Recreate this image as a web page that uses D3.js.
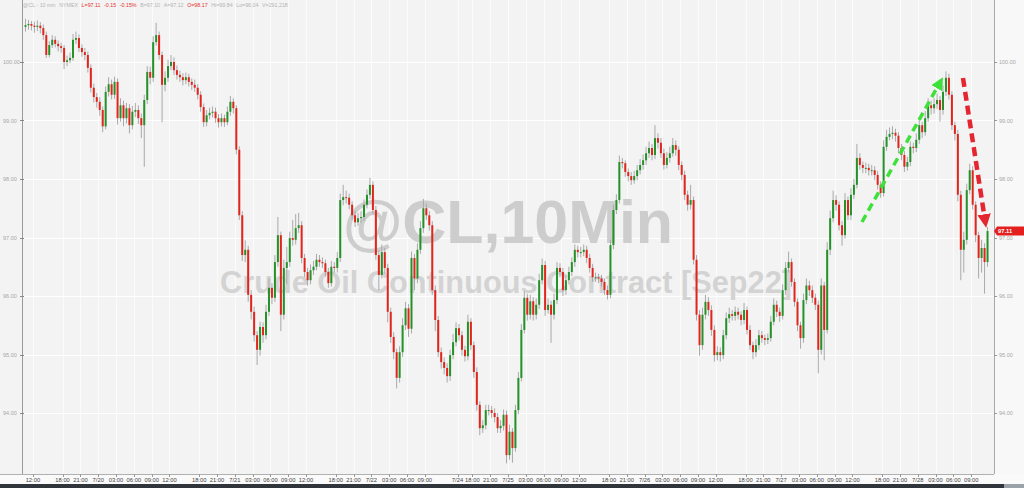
<!DOCTYPE html>
<html><head><meta charset="utf-8">
<script src="https://cdn.jsdelivr.net/npm/d3@7/dist/d3.min.js"></script>
<style>html,body{margin:0;padding:0;background:#f3f3f3;}svg{display:block;font-family:"Liberation Sans",Arial,sans-serif;}</style>
</head><body>
<svg id="c" width="1024" height="488"></svg>
<script>
// ---- data (30-minute bars, CL Sep22, 7/19 10:30 -> 7/28 11:30) ----
const closes = [100.63,100.65,100.62,100.60,100.62,100.58,100.46,100.12,100.29,100.38,100.31,100.27,100.24,100.00,100.03,100.07,100.38,100.41,100.24,100.17,100.12,99.90,99.56,99.40,99.32,99.18,98.90,99.49,99.62,99.44,99.66,99.04,99.26,99.04,99.21,98.92,99.15,99.18,99.04,98.92,99.35,99.83,99.73,100.34,100.46,100.12,99.61,99.73,99.93,100.00,99.86,99.78,99.74,99.69,99.74,99.66,99.61,99.56,99.44,99.23,98.97,99.09,99.13,99.15,99.04,98.97,99.04,98.97,99.15,99.32,99.21,98.50,97.38,96.70,96.79,96.02,95.73,95.33,95.08,95.47,95.33,95.73,96.14,95.97,96.58,97.04,95.68,96.48,96.58,96.99,96.96,97.16,97.21,96.65,96.41,96.27,96.44,96.50,96.62,96.58,96.56,96.41,96.22,96.50,96.48,96.65,97.64,97.69,97.68,97.56,97.38,97.26,97.33,97.35,97.56,97.73,97.90,97.47,96.70,96.36,96.75,96.48,95.73,95.30,95.04,94.60,95.04,95.50,95.79,95.44,96.65,96.30,96.79,97.16,97.50,97.38,97.21,96.10,95.59,95.04,94.87,94.77,94.63,94.99,95.21,95.45,95.33,95.08,94.97,95.56,95.16,94.70,94.14,93.74,93.79,94.05,94.05,94.00,93.93,93.74,93.78,93.97,93.28,93.68,93.40,94.05,94.60,95.42,95.97,95.68,95.91,95.68,95.85,96.27,96.53,95.76,95.85,95.68,95.93,96.48,96.41,96.10,96.27,96.41,96.58,96.79,96.75,96.75,96.79,96.65,96.48,96.32,96.32,96.30,96.24,96.10,96.02,96.87,97.47,97.64,98.29,98.27,98.12,98.05,97.98,98.05,98.15,98.24,98.32,98.44,98.53,98.41,98.70,98.62,98.44,98.24,98.36,98.44,98.58,98.50,98.24,98.07,97.73,97.56,97.64,96.62,95.68,95.16,95.68,95.90,95.76,95.42,94.99,95.04,94.99,95.33,95.62,95.69,95.66,95.73,95.68,95.59,95.76,95.42,95.16,95.04,95.16,95.33,95.28,95.25,95.28,95.56,95.85,95.73,95.66,96.10,96.48,96.58,96.24,95.90,95.50,95.28,95.93,96.18,96.10,95.97,95.85,95.08,96.18,95.42,96.79,97.33,97.64,97.56,97.21,97.04,97.64,97.38,97.73,97.90,98.36,98.24,98.19,98.19,98.15,98.15,98.07,97.90,97.76,98.55,98.72,98.77,98.79,98.74,98.53,98.41,98.21,98.29,98.55,98.53,98.67,98.92,98.80,99.04,99.26,99.21,99.28,99.35,99.18,99.49,99.73,99.44,98.92,98.77,97.73,96.79,96.96,97.81,98.15,97.56,97.04,96.65,96.82,96.58,97.11];
const highs = [100.74,100.72,100.70,100.69,100.71,100.68,100.64,100.52,100.36,100.46,100.44,100.37,100.33,100.29,100.11,100.16,100.48,100.52,100.47,100.30,100.24,100.18,99.96,99.63,99.47,99.40,99.24,99.58,99.74,99.70,99.75,99.72,99.38,99.34,99.30,99.28,99.25,99.30,99.26,99.12,99.44,99.93,99.92,100.44,100.67,100.52,100.18,99.84,100.04,100.12,100.08,99.94,99.85,99.81,99.82,99.80,99.72,99.70,99.62,99.50,99.29,99.18,99.22,99.24,99.22,99.11,99.12,99.10,99.24,99.42,99.38,99.26,98.56,97.45,96.95,96.86,96.10,95.82,95.40,95.56,95.55,95.85,96.30,96.22,96.70,97.35,97.10,96.62,96.84,97.10,97.30,97.40,97.42,97.28,96.72,96.48,96.54,96.60,96.72,96.70,96.66,96.62,96.48,96.60,96.58,96.75,97.75,97.90,97.80,97.75,97.62,97.45,97.42,97.45,97.65,97.82,98.02,97.96,97.54,96.78,96.88,96.82,96.55,95.80,95.38,95.10,95.14,95.62,95.90,95.86,96.76,96.72,96.90,97.28,97.66,97.58,97.45,97.28,96.18,95.66,95.12,94.95,94.85,95.08,95.35,95.55,95.52,95.40,95.15,95.68,95.62,95.22,94.78,94.20,93.88,94.14,94.14,94.12,94.08,94.00,93.88,94.06,94.04,93.80,93.74,94.14,94.70,95.52,96.08,96.04,96.02,95.98,95.96,96.38,96.64,96.60,95.96,95.92,96.04,96.58,96.56,96.48,96.36,96.50,96.66,96.88,96.86,96.84,96.88,96.86,96.72,96.55,96.40,96.38,96.36,96.30,96.18,96.96,97.56,97.74,98.40,98.36,98.32,98.18,98.12,98.14,98.24,98.34,98.42,98.55,98.64,98.60,98.92,98.78,98.70,98.52,98.46,98.55,98.70,98.66,98.56,98.30,98.14,97.80,97.90,97.70,96.70,95.76,95.80,96.02,95.98,95.84,95.50,95.14,95.12,95.42,95.72,95.80,95.76,95.82,95.80,95.74,95.88,95.82,95.50,95.22,95.26,95.42,95.40,95.34,95.36,95.66,95.96,95.92,95.80,96.20,96.58,96.76,96.64,96.30,95.96,95.56,96.04,96.30,96.26,96.18,96.04,95.92,96.30,96.24,96.92,97.46,97.80,97.72,97.62,97.28,97.76,97.70,97.84,98.00,98.60,98.44,98.30,98.28,98.26,98.24,98.22,98.14,97.96,98.66,98.84,98.88,98.90,98.86,98.80,98.60,98.48,98.38,98.64,98.62,98.78,99.04,98.98,99.16,99.38,99.34,99.38,99.46,99.42,99.60,99.84,99.80,99.50,98.98,98.84,97.80,97.10,97.92,98.26,98.22,97.62,97.10,96.96,96.90,97.18];
const lows = [100.52,100.55,100.54,100.50,100.53,100.49,100.38,100.07,100.08,100.24,100.25,100.18,100.16,99.88,99.93,99.98,100.02,100.31,100.17,100.09,100.03,99.82,99.48,99.31,99.22,99.08,98.80,98.85,99.41,99.36,99.37,98.93,98.98,98.90,98.95,98.78,98.85,99.06,98.94,98.70,98.21,99.28,99.62,99.66,100.28,100.04,98.97,99.50,99.66,99.86,99.78,99.70,99.66,99.60,99.62,99.58,99.52,99.49,99.36,99.15,98.89,98.90,99.02,99.05,98.96,98.88,98.90,98.89,98.92,99.08,99.12,98.42,97.30,96.60,96.58,95.90,95.60,95.22,94.82,94.98,95.20,95.26,95.66,95.86,95.90,96.50,95.40,95.60,96.20,96.50,96.86,96.88,97.08,96.56,96.32,96.18,96.20,96.36,96.44,96.50,96.48,96.33,96.14,96.16,96.40,96.40,96.58,97.55,97.58,97.48,97.30,97.18,97.20,97.25,97.28,97.50,97.66,97.40,96.62,96.10,96.30,96.38,95.55,95.20,94.92,94.42,94.52,94.96,95.42,95.30,95.36,96.10,96.22,96.72,97.08,97.30,97.12,96.02,95.40,94.96,94.76,94.66,94.52,94.55,94.92,95.14,95.24,94.98,94.88,94.90,95.08,94.60,94.04,93.62,93.66,93.72,93.96,93.92,93.84,93.66,93.66,93.70,93.14,93.20,93.15,93.34,93.98,94.54,95.36,95.58,95.60,95.58,95.60,95.78,96.20,95.66,95.70,95.20,95.60,95.86,96.32,96.00,96.02,96.20,96.34,96.50,96.66,96.66,96.68,96.56,96.40,96.24,96.24,96.22,96.16,96.02,95.94,95.96,96.80,97.40,97.58,98.18,98.04,97.96,97.90,97.92,97.98,98.08,98.16,98.24,98.36,98.32,98.34,98.52,98.36,98.16,98.18,98.28,98.38,98.40,98.15,97.98,97.64,97.46,97.48,96.54,95.58,94.98,95.08,95.60,95.66,95.32,94.88,94.90,94.88,94.92,95.26,95.54,95.58,95.58,95.60,95.50,95.52,95.34,95.08,94.92,94.96,95.08,95.20,95.16,95.18,95.22,95.50,95.64,95.56,95.60,96.02,96.40,96.16,95.82,95.40,95.10,95.20,95.86,96.00,95.88,95.76,94.68,95.00,94.90,95.36,96.70,97.26,97.46,97.12,96.86,96.98,97.30,97.30,97.66,97.84,98.16,98.10,98.10,98.06,98.06,97.98,97.82,97.68,97.70,98.48,98.66,98.68,98.64,98.44,98.32,98.12,98.14,98.22,98.44,98.46,98.60,98.70,98.74,98.98,99.10,99.12,99.20,98.98,99.10,99.42,99.36,98.84,98.66,97.62,96.27,96.40,96.88,97.74,97.48,96.92,96.30,96.40,96.04,96.50];
const firstOpen = 100.60;
const barStart = "2022-07-19T10:30";
const yTicks = [94, 95, 96, 97, 98, 99, 100];
const xTickTimes = ["2022-07-19T12:00","2022-07-19T18:00","2022-07-19T21:00","2022-07-20T00:00","2022-07-20T03:00","2022-07-20T06:00","2022-07-20T09:00","2022-07-20T12:00","2022-07-20T18:00","2022-07-20T21:00","2022-07-21T00:00","2022-07-21T03:00","2022-07-21T06:00","2022-07-21T09:00","2022-07-21T12:00","2022-07-21T18:00","2022-07-21T21:00","2022-07-22T00:00","2022-07-22T03:00","2022-07-22T06:00","2022-07-22T09:00","2022-07-22T14:30","2022-07-24T18:00","2022-07-24T21:00","2022-07-25T00:00","2022-07-25T03:00","2022-07-25T06:00","2022-07-25T09:00","2022-07-25T12:00","2022-07-25T18:00","2022-07-25T21:00","2022-07-26T00:00","2022-07-26T03:00","2022-07-26T06:00","2022-07-26T09:00","2022-07-26T12:00","2022-07-26T18:00","2022-07-26T21:00","2022-07-27T00:00","2022-07-27T03:00","2022-07-27T06:00","2022-07-27T09:00","2022-07-27T12:00","2022-07-27T18:00","2022-07-27T21:00","2022-07-28T00:00","2022-07-28T03:00","2022-07-28T06:00","2022-07-28T09:00"];
const xTickLabels = ["12:00","18:00","21:00","7/20","03:00","06:00","09:00","12:00","18:00","21:00","7/21","03:00","06:00","09:00","12:00","18:00","21:00","7/22","03:00","06:00","09:00","7/24","18:00","21:00","7/25","03:00","06:00","09:00","12:00","18:00","21:00","7/26","03:00","06:00","09:00","12:00","18:00","21:00","7/27","03:00","06:00","09:00","12:00","18:00","21:00","7/28","03:00","06:00","09:00"];
const headerTexts = ["@CL - 10 min","NYMEX","L=97.11","-0.15","-0.15%","B=97.10","A=97.12","O=98.17","Hi=99.84","Lo=96.04","V=291,218"];
const headerRed = [false,false,true,true,true,false,false,true,false,false,false];
const lastPrice = 97.11;
const watermarkTitle = "@CL,10Min";
const watermarkSub = "Crude Oil Continuous Contract [Sep22]";

(function () {
const svg = d3.select("#c");
const W = 1024, H = 488;
const pL = 22, pR = 994, pB = 474;
const N = closes.length;
const parse = d3.timeParse("%Y-%m-%dT%H:%M");

// trading-time bar clock (skip 17:00-18:00 daily break and the weekend)
const bars = [];
let t = parse(barStart);
while (bars.length < N + 1) {
  bars.push(t);
  t = d3.timeMinute.offset(t, 30);
  if (t.getHours() === 17 && t.getMinutes() === 0) {
    t = d3.timeHour.offset(t, t.getDay() === 5 ? 49 : 1);
  }
}
const idxOf = d => bars.findIndex(b => b.getTime() === d.getTime());

const x = d3.scaleLinear().domain([0, N]).range([24, 989]);
const y = d3.scaleLinear().domain([94, 100]).range([413, 62]);

svg.append("rect").attr("width", W).attr("height", H).attr("fill", "#f3f3f3");
svg.append("rect").attr("x", pR).attr("y", 0).attr("width", W - pR).attr("height", pB).attr("fill", "#f8f8f8");
svg.append("rect").attr("x", 0).attr("y", pB).attr("width", W).attr("height", 10).attr("fill", "#fafafa");
svg.append("rect").attr("x", 0).attr("y", 484).attr("width", W).attr("height", 4).attr("fill", "#30353b");
svg.append("rect").attr("x", 1004).attr("y", 484).attr("width", 20).attr("height", 4).attr("fill", "#9aa2aa");

// grid
const tickIdx = xTickTimes.map(s => idxOf(parse(s)));
svg.append("g").selectAll("line").data(tickIdx).join("line")
  .attr("x1", d => Math.round(x(d)) + 0.5).attr("x2", d => Math.round(x(d)) + 0.5)
  .attr("y1", 0).attr("y2", pB).attr("stroke", "#ffffff").attr("stroke-width", 1).attr("opacity", 0.7);
svg.append("g").selectAll("line").data(yTicks).join("line")
  .attr("x1", pL).attr("x2", pR).attr("y1", d => Math.round(y(d)) + 0.5).attr("y2", d => Math.round(y(d)) + 0.5)
  .attr("stroke", "#ffffff").attr("stroke-width", 1);

// watermark
svg.append("text").text(watermarkTitle).attr("x", 508).attr("y", 243).attr("text-anchor", "middle")
  .attr("font-size", 62).attr("font-weight", "bold").attr("fill", "#cdcdcd")
  .attr("textLength", 330).attr("lengthAdjust", "spacingAndGlyphs");
svg.append("text").text(watermarkSub).attr("x", 506).attr("y", 293).attr("text-anchor", "middle")
  .attr("font-size", 31).attr("font-weight", "bold").attr("fill", "#d3d3d3")
  .attr("textLength", 572).attr("lengthAdjust", "spacingAndGlyphs");

// candles
const opens = closes.map((c, i) => i === 0 ? firstOpen : closes[i - 1]);
const cg = svg.append("g");
const cx = i => x(i) + 1.5;
cg.selectAll("line.w").data(closes).join("line").attr("class", "w")
  .attr("x1", (d, i) => cx(i)).attr("x2", (d, i) => cx(i))
  .attr("y1", (d, i) => y(highs[i])).attr("y2", (d, i) => y(lows[i]))
  .attr("stroke", "#a9a9a9").attr("stroke-width", 1);
cg.selectAll("rect.b").data(closes).join("rect").attr("class", "b")
  .attr("x", (d, i) => cx(i) - 1).attr("width", 2)
  .attr("y", (d, i) => y(Math.max(opens[i], d)))
  .attr("height", (d, i) => Math.max(1, Math.abs(y(opens[i]) - y(d))))
  .attr("fill", (d, i) => d >= opens[i] ? "#24912a" : "#e1251d");

// axes lines
svg.append("line").attr("x1", pL + 0.5).attr("x2", pL + 0.5).attr("y1", 0).attr("y2", pB).attr("stroke", "#9a9a9a");
svg.append("line").attr("x1", pR + 0.5).attr("x2", pR + 0.5).attr("y1", 0).attr("y2", pB).attr("stroke", "#a8a8a8");
svg.append("line").attr("x1", 0).attr("x2", pR).attr("y1", pB + 0.5).attr("y2", pB + 0.5).attr("stroke", "#b0b0b0");

// y labels (both sides)
const yl = svg.append("g").attr("font-size", 5.5).attr("fill", "#a8a8a8");
yl.selectAll("text.r").data(yTicks).join("text").attr("class", "r")
  .attr("x", pR + 5).attr("y", d => y(d) + 2).text(d => d3.format(".2f")(d));
yl.selectAll("text.l").data(yTicks).join("text").attr("class", "l")
  .attr("x", 3).attr("y", d => y(d) + 2).text(d => d3.format(".2f")(d));
svg.append("g").selectAll("line").data(yTicks).join("line")
  .attr("x1", pR).attr("x2", pR + 3).attr("y1", d => Math.round(y(d)) + 0.5).attr("y2", d => Math.round(y(d)) + 0.5).attr("stroke", "#999");
svg.append("g").selectAll("line").data(yTicks).join("line")
  .attr("x1", pL - 2).attr("x2", pL + 2).attr("y1", d => Math.round(y(d)) + 0.5).attr("y2", d => Math.round(y(d)) + 0.5).attr("stroke", "#888");

// x labels
const xl = svg.append("g").attr("font-size", 5.8).attr("fill", "#444").attr("text-anchor", "middle");
xl.selectAll("text").data(xTickLabels).join("text")
  .attr("x", (d, i) => x(tickIdx[i])).attr("y", 481.5).text(d => d);
svg.append("g").selectAll("line").data(tickIdx).join("line")
  .attr("x1", d => Math.round(x(d)) + 0.5).attr("x2", d => Math.round(x(d)) + 0.5)
  .attr("y1", pB).attr("y2", pB + 3).attr("stroke", "#999");

// header
const hd = svg.append("text").attr("x", 23).attr("y", 7).attr("font-size", 5.3);
headerTexts.forEach((s, i) => hd.append("tspan").attr("dx", i ? 3.6 : 0).attr("fill", headerRed[i] ? "#e3322e" : "#b4b4b4").text(s));

// arrows
const defs = svg.append("defs");
defs.append("marker").attr("id", "ag").attr("viewBox", "0 0 10 10").attr("refX", 2).attr("refY", 5)
  .attr("markerWidth", 3.6).attr("markerHeight", 3.6).attr("orient", "auto")
  .append("path").attr("d", "M0,0 L10,5 L0,10 z").attr("fill", "#3ee03a");
defs.append("marker").attr("id", "ar").attr("viewBox", "0 0 10 10").attr("refX", 2).attr("refY", 5)
  .attr("markerWidth", 3).attr("markerHeight", 3).attr("orient", "auto")
  .append("path").attr("d", "M0,0 L10,5 L0,10 z").attr("fill", "#e32630");
svg.append("line").attr("x1", 862).attr("y1", 222).attr("x2", 938).attr("y2", 86)
  .attr("stroke", "#3ee03a").attr("stroke-width", 3.5).attr("stroke-dasharray", "8,5").attr("marker-end", "url(#ag)");
svg.append("line").attr("x1", 963).attr("y1", 78).attr("x2", 984.5).attr("y2", 217)
  .attr("stroke", "#e32630").attr("stroke-width", 4.5).attr("stroke-dasharray", "9,5").attr("marker-end", "url(#ar)");

// last price tag
const ly = y(lastPrice);
svg.append("path").attr("d", `M${pR},${ly} L${pR + 3},${ly - 4.5} L${W},${ly - 4.5} L${W},${ly + 4.5} L${pR + 3},${ly + 4.5} Z`).attr("fill", "#e3201f");
svg.append("text").attr("x", pR + 4).attr("y", ly + 2).attr("font-size", 5.8).attr("font-weight", "bold").attr("fill", "#fff").text(d3.format(".2f")(lastPrice));
})();
</script>
</body></html>
